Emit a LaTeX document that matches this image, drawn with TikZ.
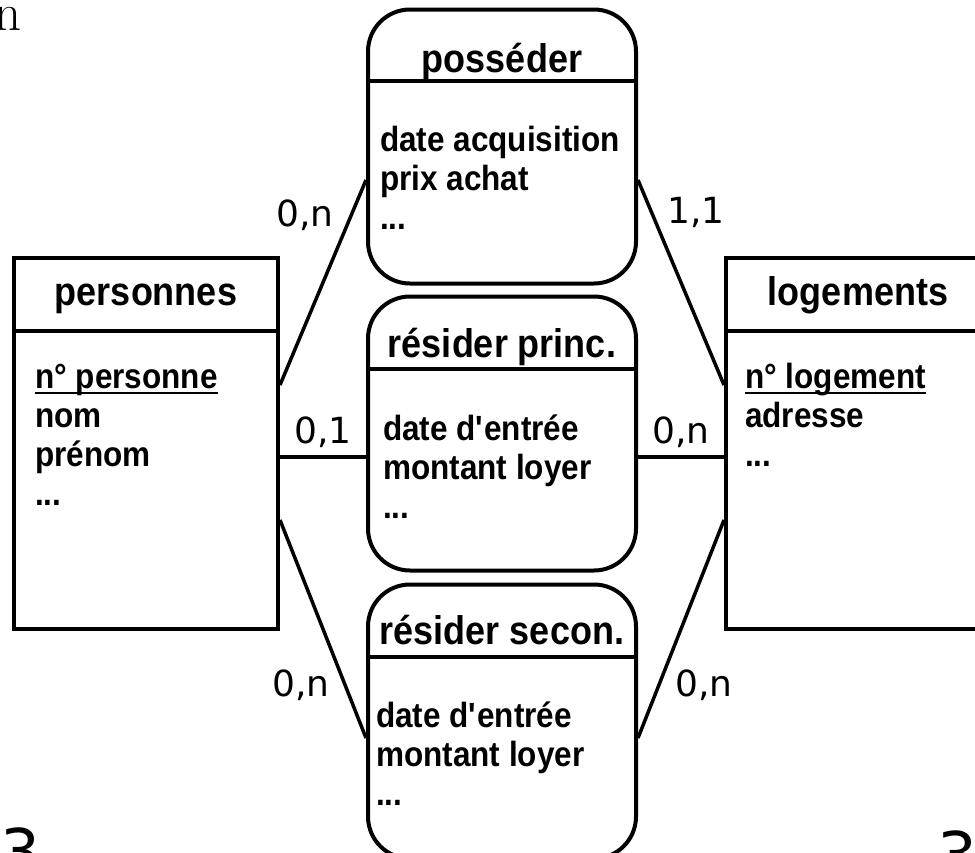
\documentclass[tikz,border=0pt]{standalone}
\usepackage{fontspec}
\newfontfamily\mcdfont{Liberation Sans}[FakeStretch=0.9]
\newfontfamily\cardfont{DejaVu Sans}
\usetikzlibrary{positioning}
\newcommand\idkey[1]{\setbox0\hbox{#1}\rlap{\rule[-6pt]{\wd0}{2pt}}#1}

\begin{document}
\begin{tikzpicture}
    [x=1pt, y=-1pt,
    entity/.style={draw, line width=4pt, minimum width=264pt, minimum height=371pt, inner sep=0pt},
    relation/.style={draw, line width=4pt, rounded corners=42pt, minimum width=268pt, minimum height=274pt, inner sep=0pt},
    title/.style={anchor=base, inner sep=0pt, font=\mcdfont\bfseries\fontsize{40}{44}\selectfont},
    attr/.style={anchor=base west, inner sep=0pt, font=\mcdfont\bfseries\fontsize{35}{38}\selectfont},
    card/.style={inner sep=0pt, font=\cardfont\fontsize{36}{40}\selectfont},
    link/.style={line width=3.5pt}]
    \useasboundingbox (0,0) rectangle (975,852);
    \clip (0,0) rectangle (975,852);

    % entities
    \node[entity] (pers) at (146,443.5) {};
    \node[entity] (loge) at (858,443.5) {};
    \draw[line width=4pt] (pers.west |- 0,331) -- (pers.east |- 0,331);
    \draw[line width=4pt] (loge.west |- 0,331) -- (loge.east |- 0,331);
    \node[title] (pers-t) at (146,305) {personnes};
    \node[title] (loge-t) at (858,305) {logements};
    \foreach \txt [count=\i from 0] in {\idkey{n° personne}, nom, prénom, .{}.{}.}
        \node[attr] (pers-a\i) at (35,388+39*\i) {\txt};
    \foreach \txt [count=\i from 0] in {\idkey{n° logement}, adresse, .{}.{}.}
        \node[attr] (loge-a\i) at (745,388+39*\i) {\txt};

    % relations
    \node[relation] (poss) at (502,146.5) {};
    \node[relation] (resp) at (502,433.5) {};
    \node[relation] (ress) at (502,721.5) {};
    \draw[line width=4pt] (poss.west |- 0,81) -- (poss.east |- 0,81);
    \draw[line width=4pt] (resp.west |- 0,369) -- (resp.east |- 0,369);
    \draw[line width=4pt] (ress.west |- 0,657) -- (ress.east |- 0,657);
    \node[title] (poss-t) at (502,72) {posséder};
    \node[title] (resp-t) at (502,357) {résider princ.};
    \node[title] (ress-t) at (502,644) {résider secon.};
    \foreach \txt [count=\i from 0] in {date acquisition, prix achat, .{}.{}.}
        \node[attr] (poss-a\i) at (380,151+39*\i) {\txt};
    \foreach \txt [count=\i from 0] in {date d\textquotesingle entrée, montant loyer, .{}.{}.}
        \node[attr] (resp-a\i) at (383,440+39*\i) {\txt};
    \foreach \txt [count=\i from 0] in {date d\textquotesingle entrée, montant loyer, .{}.{}.}
        \node[attr] (ress-a\i) at (376,727+39*\i) {\txt};

    % links
    \draw[link] ([yshift=58.5pt]pers.east) -- node[card, pos=0.83, left=16pt] (c1) {0,n} ([yshift=-33.5pt]poss.west);
    \draw[link] ([yshift=-33.5pt]poss.east) -- node[card, pos=0.156, right=14pt] (c2) {1,1} ([yshift=58.5pt]loge.west);
    \draw[link] ([yshift=-13.5pt]pers.east) -- node[card, above=8pt] (c3) {0,1} ([yshift=-23.5pt]resp.west);
    \draw[link] ([yshift=-23.5pt]resp.east) -- node[card, above=8pt] (c4) {0,n} ([yshift=-13.5pt]loge.west);
    \draw[link] ([yshift=-76.5pt]pers.east) -- node[card, pos=0.757, left=14pt] (c5) {0,n} ([yshift=-16.5pt]ress.west);
    \draw[link] ([yshift=-16.5pt]ress.east) -- node[card, pos=0.243, right=15pt] (c6) {0,n} ([yshift=-76.5pt]loge.west);

    % cut-off bits at the edges
    \node[anchor=base east, inner sep=0pt, font=\fontsize{53}{60}\selectfont] (frag-n) at (22,30) {n};
    \node[anchor=base west, inner sep=0pt, font=\cardfont\fontsize{63}{70}\selectfont] (frag-l) at (0,874) {3};
    \node[anchor=base west, inner sep=0pt, font=\cardfont\fontsize{63}{70}\selectfont] (frag-r) at (937,877) {3};
\end{tikzpicture}
\end{document}
